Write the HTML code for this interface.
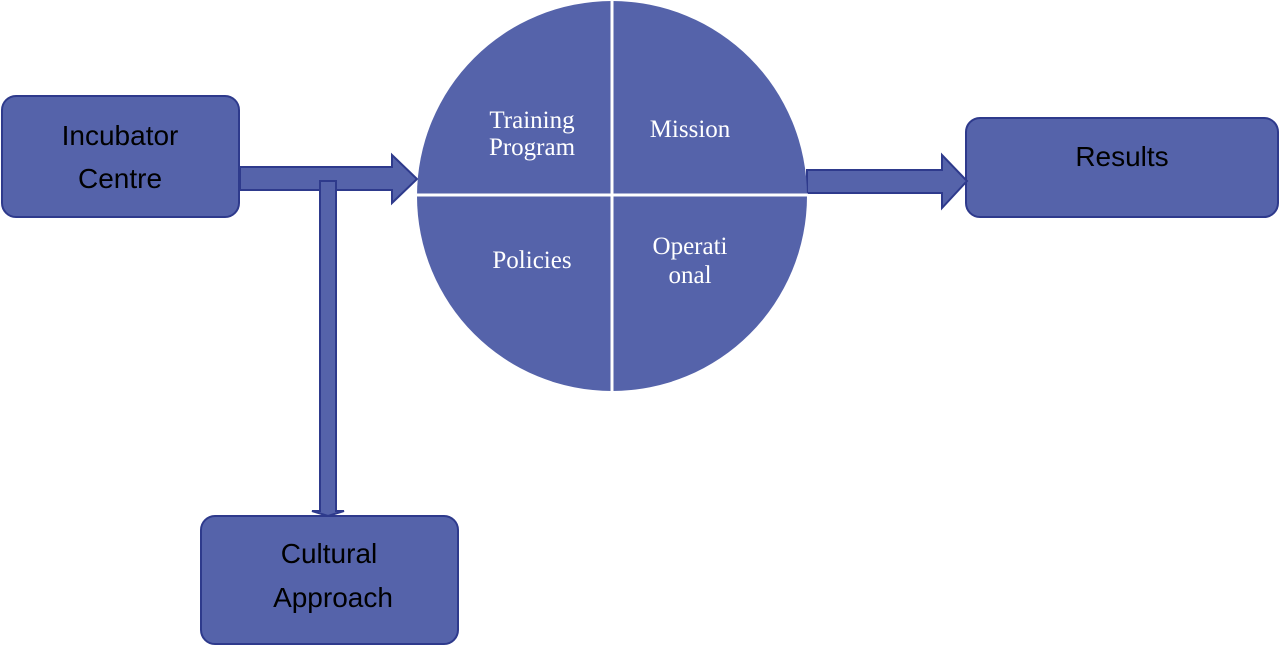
<!DOCTYPE html>
<html><head><style>
body{margin:0;width:1280px;height:646px;background:#fff;overflow:hidden}
</style></head><body>
<svg width="1280" height="646" xmlns="http://www.w3.org/2000/svg">
<g fill="#5563aa" stroke="#2e3a8c" stroke-width="2">
<rect x="2" y="96" width="237" height="121" rx="14"/>
<rect x="966" y="118" width="312" height="99" rx="14"/>
<rect x="201" y="516" width="257" height="128" rx="14"/>
<path d="M240 167 H392 V155 L417 179 L392 203 V190 H240 Z"/>
<path d="M807 170 H942 V155 L967 181 L942 208 V193 H807 Z"/>
<path d="M320 181 H336 V511 H344 L328 516 L312 511 H320 Z"/>
</g>
<circle cx="612" cy="196" r="195" fill="#5563aa"/>
<line x1="612" y1="0" x2="612" y2="392" stroke="#fff" stroke-width="3"/>
<line x1="416" y1="195" x2="808" y2="195" stroke="#fff" stroke-width="3"/>
<g font-family="Liberation Sans, sans-serif" font-size="28" fill="#000" text-anchor="middle">
<text x="120" y="145">Incubator</text><text x="120" y="188">Centre</text>
<text x="1122" y="166">Results</text>
<text x="329" y="563">Cultural</text><text x="333" y="607">Approach</text>
</g>
<g font-family="Liberation Serif, serif" font-size="25" fill="#fff" text-anchor="middle">
<text x="532" y="128">Training</text><text x="532" y="155">Program</text>
<text x="690" y="137">Mission</text>
<text x="532" y="268">Policies</text>
<text x="690" y="254">Operati</text><text x="690" y="283">onal</text>
</g>
</svg>
</body></html>
